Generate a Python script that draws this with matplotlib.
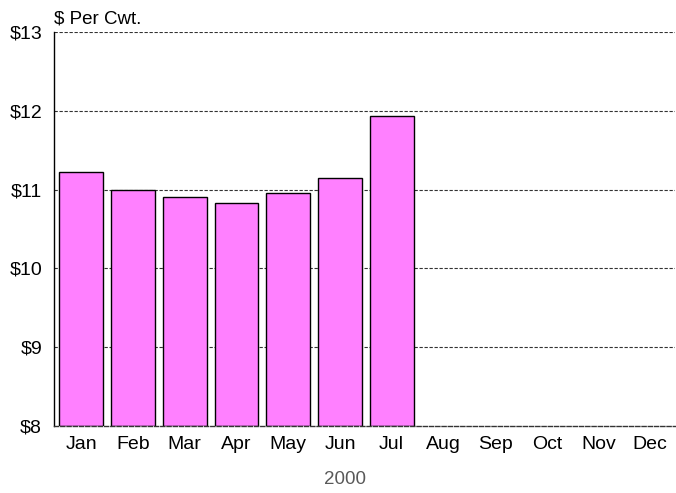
import matplotlib
matplotlib.use("Agg")
import matplotlib.pyplot as plt
import numpy as np

plt.rcParams['font.family'] = ['Liberation Sans', 'DejaVu Sans']

# monthly prices, 2000 ($ per cwt), only Jan-Jul reported
months = ['Jan', 'Feb', 'Mar', 'Apr', 'May', 'Jun', 'Jul',
          'Aug', 'Sep', 'Oct', 'Nov', 'Dec']
prices = [11.22, 11.00, 10.90, 10.83, 10.96, 11.15, 11.94]
yticks = [8, 9, 10, 11, 12, 13]
ytick_labels = ['$8', '$9', '$10', '$11', '$12', '$13']

fig = plt.figure(figsize=(6.76, 4.93), dpi=100)
ax = fig.add_axes([0.0806, 0.136, 0.918, 0.799])

x = np.arange(len(months))

# gridlines behind bars
for y in yticks[1:]:
    ax.axhline(y, color='#333333', lw=0.8, ls=(0, (3, 1.5)), zorder=0)

ax.bar(x[:len(prices)], np.array(prices) - 8, bottom=8, width=0.85,
       color='#FF80FF', edgecolor='black', lw=1.0, zorder=2)

ax.set_xlim(-0.52, 11.48)
ax.set_ylim(8, 13)
ax.set_yticks(yticks)
ax.set_yticklabels(ytick_labels)
ax.set_xticks(x)
ax.set_xticklabels(months)
ax.tick_params(axis='both', length=0, labelsize=14)
ax.tick_params(axis='y', pad=9)
ax.tick_params(axis='x', pad=7)

for s in ['top', 'right']:
    ax.spines[s].set_visible(False)
ax.spines['left'].set_color('black')
ax.spines['left'].set_linewidth(1.0)
ax.spines['bottom'].set_color('#333333')
ax.spines['bottom'].set_linestyle((0, (3, 1.5)))
ax.spines['bottom'].set_linewidth(1.0)

fig.text(345 / 676, 1 - 480 / 493, '2000', fontsize=13.5, color='#595959',
         ha='center', va='center')
ax.annotate('$ Per Cwt.', xy=(0, 1), xycoords='axes fraction',
            xytext=(0, 6.3), textcoords='offset points',
            fontsize=13.5, ha='left', va='baseline')

fig.savefig('out.png', dpi=100)
